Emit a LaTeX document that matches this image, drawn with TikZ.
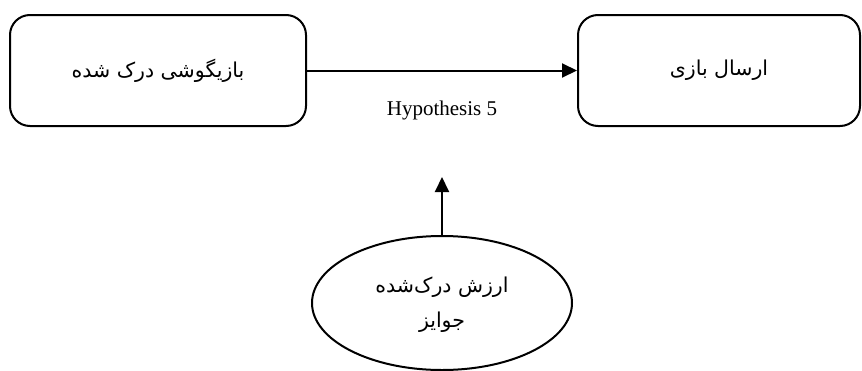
\documentclass[tikz,border=0pt]{standalone}
\usepackage{fontspec}
\setmainfont{Liberation Serif}
\newfontfamily\arabicfont[Script=Arabic]{DejaVu Sans}
\TeXXeTstate=1
\usetikzlibrary{shapes.geometric,arrows.meta}
\begin{document}
\begin{tikzpicture}[x=1pt,y=-1pt,
  boxstyle/.style={draw,line width=2pt,rounded corners=20pt},
  ellstyle/.style={draw,line width=2pt,ellipse,minimum width=260pt,minimum height=134pt},
  arabic/.style={font=\fontsize{20.5}{35}\arabicfont,align=center},
  conn/.style={line width=2pt,-{Triangle[length=15pt,width=14pt]}}]
\useasboundingbox (0,0) rectangle (862,370);
\node[boxstyle,minimum width=296pt,minimum height=111pt,arabic] (a) at (158,70.5) {\beginR بازیگوشی درک شده\endR};
\node[boxstyle,minimum width=282pt,minimum height=111pt,arabic] (b) at (719,70.5) {\beginR ارسال بازی\endR};
\node[ellstyle] (c) at (442,303) {};
\node[arabic] at (442,305) {\beginR ارزش درک‌شده\endR\\\beginR جوایز\endR};
\coordinate (t) at (442,177);
\node[font=\fontsize{21}{24}\selectfont] (h) at (442,110) {Hypothesis 5};
\draw[conn] (a.east) -- (b.west);
\draw[conn] (c.north) -- (t);
\end{tikzpicture}
\end{document}
